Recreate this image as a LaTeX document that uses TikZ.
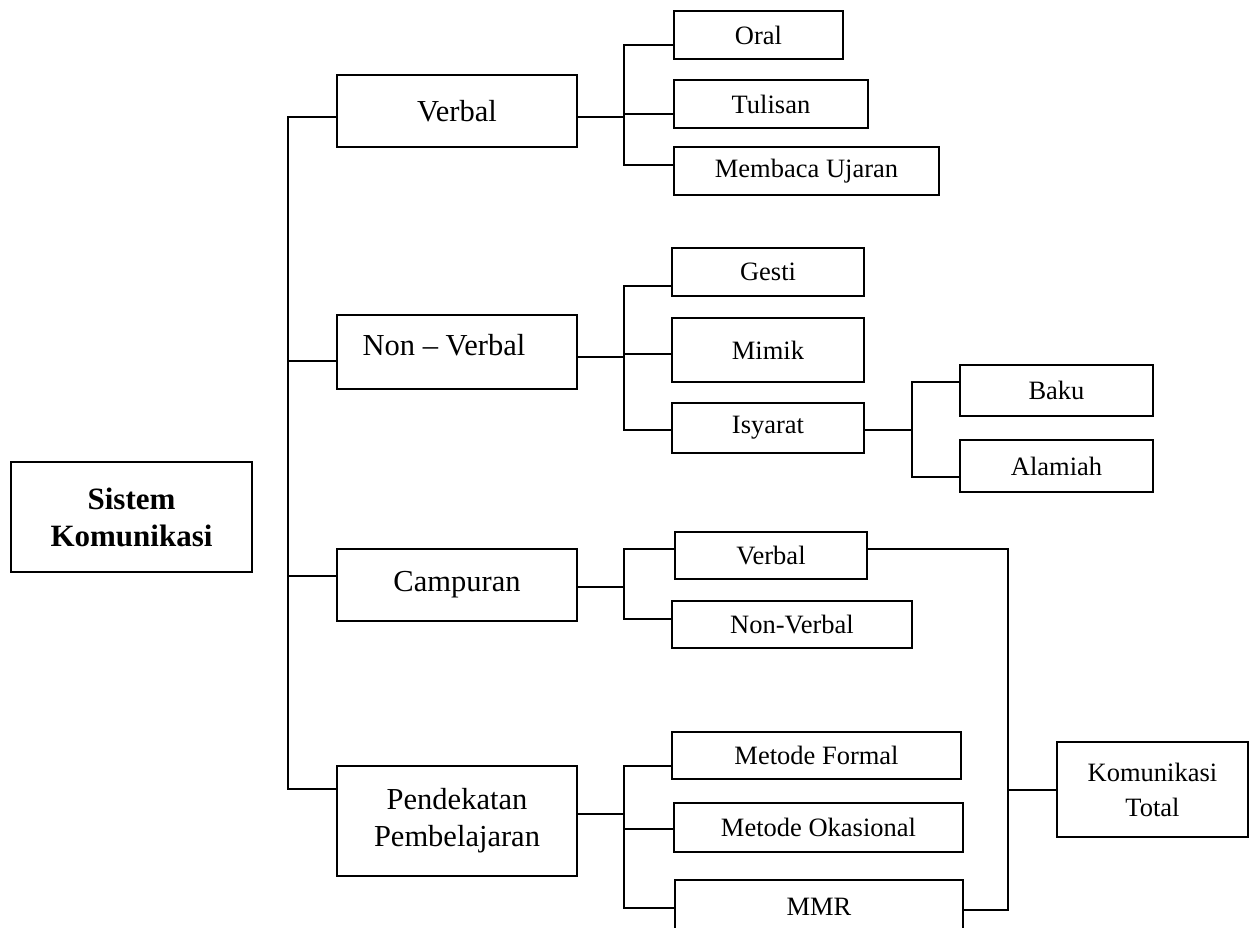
\documentclass[tikz,border=0pt]{standalone}
\usepackage{fontspec}
\setmainfont{Liberation Serif}

\tikzset{
  box/.style={draw, line width=1.6pt, inner sep=0pt, align=center},
  bigbox/.style={box, minimum width=240pt, font=\fontsize{30.5}{37}\selectfont},
  smallbox/.style={box, font=\fontsize{26.5}{35}\selectfont},
  link/.style={line width=1.6pt},
}

\begin{document}
\begin{tikzpicture}[x=1pt, y=-1pt]
\useasboundingbox (0,0) rectangle (1257,927);
\clip (0,0) rectangle (1257,927);

% root
\node[box, minimum width=241pt, minimum height=110pt, font=\bfseries\fontsize{31}{37}\selectfont] (sistem) at (131.5,517) {Sistem\\Komunikasi};

% main branches
\node[bigbox, minimum height=72pt] (verbal) at (457,111) {Verbal};
\node[bigbox, minimum height=74pt] (nonverbal) at (457,352) {};
\node[font=\fontsize{30.5}{37}\selectfont] (nonverbaltxt) at ([xshift=-13pt, yshift=7pt]nonverbal.center) {Non -- Verbal};
\node[bigbox, minimum height=72pt] (campuran) at (457,585) {Campuran};
\node[bigbox, minimum height=110pt] (pendekatan) at (457,821) {Pendekatan\\Pembelajaran};

% verbal
\node[smallbox, minimum width=169pt, minimum height=48pt] (oral) at (758.5,35) {Oral};
\node[smallbox, minimum width=194pt, minimum height=48pt] (tulisan) at (771,104) {Tulisan};
\node[smallbox, minimum width=265pt, minimum height=48pt] (membaca) at (806.5,171) {Membaca Ujaran};

% non-verbal
\node[smallbox, minimum width=192pt, minimum height=48pt] (gesti) at (768,272) {Gesti};
\node[smallbox, minimum width=192pt, minimum height=64pt] (mimik) at (768,350) {Mimik};
\node[smallbox, minimum width=192pt, minimum height=50pt] (isyarat) at (768,428) {Isyarat};
\node[smallbox, minimum width=193pt, minimum height=51pt] (baku) at (1056.5,390.5) {Baku};
\node[smallbox, minimum width=193pt, minimum height=52pt] (alamiah) at (1056.5,466) {Alamiah};

% campuran
\node[smallbox, minimum width=192pt, minimum height=47pt] (verbaldua) at (771,555.5) {Verbal};
\node[smallbox, minimum width=240pt, minimum height=47pt] (nonverbaldua) at (792,624.5) {Non-Verbal};

% pendekatan
\node[smallbox, minimum width=289pt, minimum height=47pt] (formal) at (816.5,755.5) {Metode Formal};
\node[smallbox, minimum width=289pt, minimum height=49pt] (okasional) at (818.5,827.5) {Metode Okasional};
\node[smallbox, minimum width=288pt, minimum height=54pt] (mmr) at (819,907) {MMR};
\node[smallbox, minimum width=191pt, minimum height=95pt] (total) at (1152.5,789.5) {Komunikasi\\Total};

% junctions
\coordinate (jutama) at (288,789);
\coordinate (jverbal) at (624,165);
\coordinate (jnon) at (624,430);
\coordinate (jisyarat) at (912,477);
\coordinate (jcampur) at (624,619);
\coordinate (jpend) at (624,908);
\coordinate (jtotal) at (1008,910);

\draw[link] ([yshift=-6pt]verbal.west) -| (jutama) -- ([yshift=32pt]pendekatan.west);
\draw[link] ([yshift=-9pt]nonverbal.west) -| (jutama);
\draw[link] ([yshift=9pt]campuran.west) -| (jutama);

\draw[link] ([yshift=-10pt]oral.west) -| (jverbal) -- ([yshift=6pt]membaca.west);
\draw[link] ([yshift=-10pt]tulisan.west) -| (jverbal);
\draw[link] ([yshift=-6pt]verbal.east) -| (jverbal);

\draw[link] ([yshift=-14pt]gesti.west) -| (jnon) -- ([yshift=-2pt]isyarat.west);
\draw[link] ([yshift=-4pt]mimik.west) -| (jnon);
\draw[link] ([yshift=-5pt]nonverbal.east) -| (jnon);

\draw[link] ([yshift=8.5pt]baku.west) -| (jisyarat) -- ([yshift=-11pt]alamiah.west);
\draw[link] ([yshift=-2pt]isyarat.east) -| (jisyarat);

\draw[link] ([yshift=6.5pt]verbaldua.west) -| (jcampur) -- ([yshift=5.5pt]nonverbaldua.west);
\draw[link] ([yshift=-2pt]campuran.east) -| (jcampur);

\draw[link] ([yshift=-10.5pt]formal.west) -| (jpend) -- ([yshift=-1pt]mmr.west);
\draw[link] ([yshift=-1.5pt]okasional.west) -| (jpend);
\draw[link] ([yshift=7pt]pendekatan.east) -| (jpend);

\draw[link] ([yshift=6.5pt]verbaldua.east) -| (jtotal) -- ([yshift=-3pt]mmr.east);
\draw[link] ([yshift=-0.5pt]total.west) -| (jtotal);
\end{tikzpicture}
\end{document}
